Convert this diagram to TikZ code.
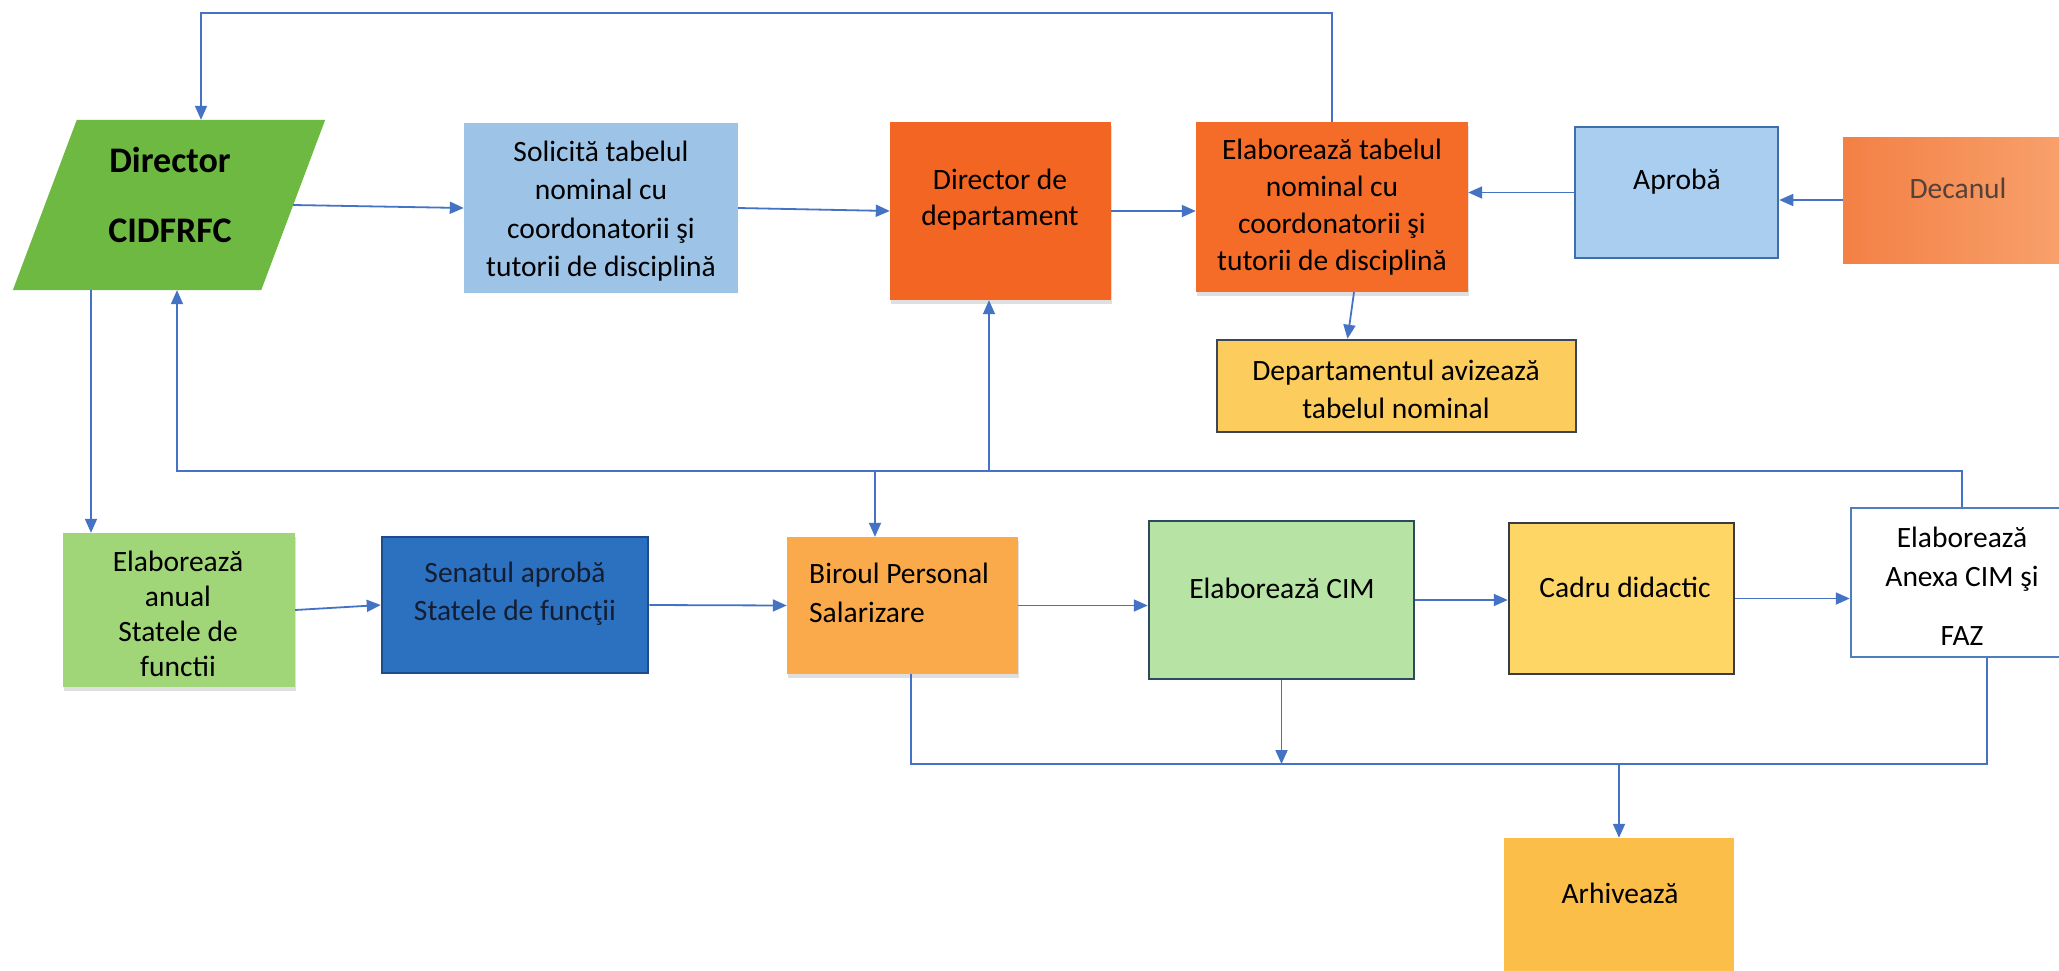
\documentclass[tikz,border=0pt]{standalone}
\usepackage{fontspec}
\setmainfont{Carlito}
\usetikzlibrary{arrows.meta,shadows,calc}
\definecolor{connblue}{RGB}{68,114,196}
\definecolor{dirgreen}{RGB}{110,185,65}
\definecolor{solblue}{RGB}{157,195,230}
\definecolor{ddepfill}{RGB}{242,101,34}
\definecolor{etabfill}{RGB}{244,108,40}
\definecolor{aprfill}{RGB}{170,206,240}
\definecolor{aprdraw}{RGB}{64,110,170}
\definecolor{decleft}{RGB}{243,128,68}
\definecolor{decright}{RGB}{248,162,110}
\definecolor{dectext}{RGB}{85,65,55}
\definecolor{deptfill}{RGB}{252,204,92}
\definecolor{deptdraw}{RGB}{60,70,90}
\definecolor{eanfill}{RGB}{160,213,120}
\definecolor{senfill}{RGB}{44,112,192}
\definecolor{sendraw}{RGB}{30,75,140}
\definecolor{sentext}{RGB}{20,30,50}
\definecolor{birfill}{RGB}{250,170,75}
\definecolor{cimfill}{RGB}{183,227,164}
\definecolor{cimdraw}{RGB}{45,75,95}
\definecolor{cadfill}{RGB}{253,214,102}
\definecolor{caddraw}{RGB}{55,60,70}
\definecolor{anxdraw}{RGB}{80,125,190}
\definecolor{arhfill}{RGB}{251,190,72}
\begin{document}
\begin{tikzpicture}[x=1pt,y=-1pt,
  box/.style={rectangle,inner sep=0pt},
  edged/.style={line width=2.5pt},
  txt/.style={inner sep=0pt,align=center,font=\fontsize{29.5}{38}\selectfont},
  conn/.style={draw=connblue,line width=1.8pt,-{Triangle[length=14pt,width=12pt]}},
  bus/.style={draw=connblue,line width=1.8pt},
  shad/.style={drop shadow={shadow xshift=1pt,shadow yshift=-4pt,opacity=0.25,fill=black!50}}]
\useasboundingbox (0,0) rectangle (2059,970);
\clip (0,0) rectangle (2059,970);
\fill[white] (0,0) rectangle (2059,970);

% boxes
\node[box,minimum width=248pt,minimum height=170pt] (dir) at (169,205) {};
\fill[dirgreen] ([xshift=32pt]dir.north west) -- ([xshift=32pt]dir.north east)
  -- ([xshift=-32pt]dir.south east) -- ([xshift=-32pt]dir.south west) -- cycle;
\node[box,fill=solblue,minimum width=274pt,minimum height=170pt] (sol) at (601,208) {};
\node[box,shad,fill=ddepfill,minimum width=221pt,minimum height=178pt] (ddep) at (1000.5,211) {};
\node[box,shad,fill=etabfill,minimum width=272pt,minimum height=170pt] (etab) at (1332,207) {};
\node[box,edged,fill=aprfill,draw=aprdraw,minimum width=203pt,minimum height=131pt] (apr) at (1676.5,192.5) {};
\node[box,left color=decleft,right color=decright,minimum width=232pt,minimum height=126pt] (dec) at (1959,200) {};
\node[box,edged,fill=deptfill,draw=deptdraw,minimum width=359pt,minimum height=92pt] (dept) at (1396.5,386) {};
\node[box,shad,fill=eanfill,minimum width=232pt,minimum height=154pt] (ean) at (179,610) {};
\node[box,edged,fill=senfill,draw=sendraw,minimum width=266pt,minimum height=136pt] (sen) at (515,605) {};
\node[box,shad,fill=birfill,minimum width=231pt,minimum height=137pt] (bir) at (902.5,605.5) {};
\node[box,edged,fill=cimfill,draw=cimdraw,minimum width=265pt,minimum height=158pt] (cim) at (1281.5,600) {};
\node[box,edged,fill=cadfill,draw=caddraw,minimum width=225pt,minimum height=151pt] (cad) at (1621.5,598.5) {};
\node[box,edged,fill=white,draw=anxdraw,minimum width=222pt,minimum height=149pt] (anx) at (1962,582.5) {};
\node[box,fill=arhfill,minimum width=230pt,minimum height=162pt] (arh) at (1619,919) {};

% texts
\node[txt,font=\fontsize{36}{70}\selectfont\bfseries] (dirt) at (170,195) {Director\\CIDFRFC};
\node[txt,font=\fontsize{29.5}{38.5}\selectfont] (solt) at (601,211) {Solicită tabelul\\nominal cu\\coordonatorii şi\\tutorii de disciplină};
\node[txt,font=\fontsize{29.5}{36}\selectfont] (ddept) at (1000,200) {Director de\\departament};
\node[txt,font=\fontsize{29.5}{37}\selectfont] (etabt) at (1332,207) {Elaborează tabelul\\nominal cu\\coordonatorii şi\\tutorii de disciplină};
\node[txt] (aprt) at (1677,182) {Aprobă};
\node[txt,text=dectext] (dect) at (1958,188) {Decanul};
\node[txt] (deptt) at (1396,389) {Departamentul avizează\\tabelul nominal};
\node[txt,font=\fontsize{29.5}{35}\selectfont] (eant) at (178,614) {Elaborează\\anual\\Statele de\\functii};
\node[txt,text=sentext] (sent) at (515,594) {Senatul aprobă\\Statele de funcţii};
\node[txt,align=left,anchor=west,font=\fontsize{29.5}{39}\selectfont] (birt) at (809,593) {Biroul Personal\\Salarizare};
\node[txt] (cimt) at (1282,588) {Elaborează CIM};
\node[txt] (cadt) at (1625,587) {Cadru didactic};
\node[txt,font=\fontsize{29.5}{39}\selectfont] (anxt) at (1962,586) {Elaborează\\Anexa CIM şi\\[20pt]FAZ};
\node[txt] (arht) at (1620,893) {Arhivează};

% helper coordinates
\coordinate (topL) at (201,13);
\coordinate (busT) at (177,471);
\coordinate (busB) at (1282,764);
\coordinate (ddin) at ([xshift=-11.5pt]ddep.south);
\coordinate (birin) at ([xshift=-27.5pt]bir.north);
\coordinate (eanin) at ([xshift=-88pt]ean.north);
\coordinate (birout) at ([xshift=8.5pt]bir.south);
\coordinate (anxout) at ([xshift=25pt]anx.south);

% connectors, top row
\draw[conn] (dir.east) -- (sol.west);
\draw[conn] (sol.east) -- (ddep.west);
\draw[conn] (ddep.east) -- (ddep.east -| etab.west);
\draw[conn] (apr.west) -- (apr.west -| etab.east);
\draw[conn] (dec.west) -- (dec.west -| apr.east);
\draw[conn] ([xshift=22pt]etab.south) -- ([xshift=-49pt]dept.north);
\draw[conn] (etab.north) |- (topL) -- (topL |- dir.north);

% upper bus
\draw[conn] (anx.north) |- (busT) -- (busT |- dir.south);
\draw[conn] (busT -| ddin) -- (ddin);
\draw[conn] (busT -| birin) -- (birin);
\draw[conn] (eanin |- dir.south) -- (eanin);

% bottom row
\draw[conn] (ean.east) -- (sen.west);
\draw[conn] (sen.east) -- (bir.west);
\draw[conn] (bir.east) -- (bir.east -| cim.west);
\draw[conn] (cim.east) -- (cim.east -| cad.west);
\draw[conn] (cad.east) -- (cad.east -| anx.west);

% lower bus
\draw[bus] (birout) |- (busB) -| (anxout);
\draw[conn] (cim.south) -- (cim.south |- busB);
\draw[conn] (arh.north |- busB) -- (arh.north);
\end{tikzpicture}
\end{document}
